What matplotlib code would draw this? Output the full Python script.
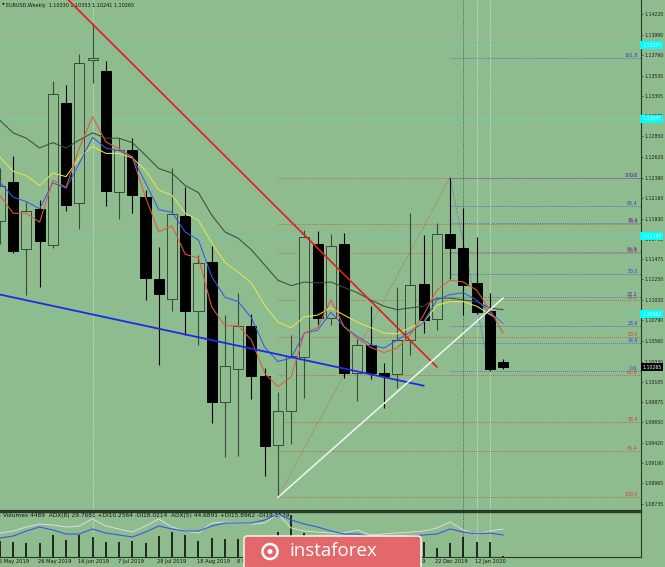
import matplotlib
matplotlib.use('Agg')
import matplotlib.pyplot as plt
from matplotlib.patches import Rectangle, FancyBboxPatch, Circle

bg = '#8fbc8f'

# weekly EURUSD bars, index 0 = week of 5 May 2019, last = week of 26 Jan 2020
date_labels = ['5 May 2019', '26 May 2019', '16 Jun 2019', '7 Jul 2019', '28 Jul 2019',
               '18 Aug 2019', '8 Sep 2019', '29 Sep 2019', '20 Oct 2019', '10 Nov 2019',
               '1 Dec 2019', '22 Dec 2019', '12 Jan 2020']
date_pos = [0, 3, 6, 9, 12, 15, 18, 21, 24, 27, 30, 33, 36]

opens = [1.1190, 1.1234, 1.1159, 1.1204, 1.1164, 1.1322, 1.1210, 1.1371, 1.1358, 1.1223,
         1.1270, 1.1217, 1.1125, 1.1103, 1.1196, 1.1090, 1.1144, 1.0988, 1.1025, 1.1073,
         1.1017, 1.0940, 1.0978, 1.1038, 1.1165, 1.1082, 1.1165, 1.1020, 1.1052, 1.1020,
         1.1019, 1.1057, 1.1120, 1.1081, 1.1176, 1.1160, 1.1121, 1.1090, 1.10330]
highs = [1.1250, 1.1263, 1.1212, 1.1214, 1.1347, 1.1343, 1.1377, 1.1412, 1.1369, 1.1283,
         1.1283, 1.1225, 1.1161, 1.1250, 1.1228, 1.1152, 1.1162, 1.1085, 1.1110, 1.1086,
         1.1026, 1.0999, 1.1063, 1.1180, 1.1179, 1.1176, 1.1177, 1.1058, 1.1095, 1.1031,
         1.1116, 1.1199, 1.1175, 1.1188, 1.1239, 1.1205, 1.1172, 1.1110, 1.10353]
lows = [1.1165, 1.1154, 1.1107, 1.1116, 1.1160, 1.1201, 1.1181, 1.1345, 1.1207, 1.1193,
        1.1199, 1.1102, 1.1029, 1.1090, 1.1063, 1.1052, 1.0964, 1.0926, 1.0927, 1.0991,
        1.0905, 1.0881, 1.0941, 1.0992, 1.1073, 1.1074, 1.1015, 1.0989, 1.1014, 1.0981,
        1.1003, 1.1040, 1.1065, 1.1068, 1.1125, 1.1085, 1.1086, 1.1022, 1.10241]
closes = [1.1230, 1.1157, 1.1202, 1.1168, 1.1333, 1.1208, 1.1367, 1.1373, 1.1224, 1.1270,
          1.1219, 1.1127, 1.1109, 1.1198, 1.1090, 1.1143, 1.0988, 1.1028, 1.1073, 1.1017,
          1.0938, 1.0978, 1.1039, 1.1172, 1.1082, 1.1162, 1.1020, 1.1052, 1.1020, 1.1017,
          1.1057, 1.1119, 1.1080, 1.1176, 1.1160, 1.1119, 1.1089, 1.1025, 1.10265]

# moving averages
ma_slow = [1.1303, 1.1289, 1.1283, 1.1272, 1.1278, 1.1272, 1.1281, 1.1289, 1.1283, 1.1283,
           1.1278, 1.1264, 1.1249, 1.1244, 1.1230, 1.1222, 1.1197, 1.1178, 1.1171, 1.1158,
           1.1141, 1.1124, 1.1118, 1.1122, 1.1121, 1.1122, 1.1116, 1.1110, 1.1102, 1.1095,
           1.1091, 1.1093, 1.1095, 1.1104, 1.1104, 1.1102, 1.1100, 1.1093, 1.1091]
ma_yellow = [1.1262, 1.1246, 1.1241, 1.1230, 1.1244, 1.1240, 1.1261, 1.1274, 1.1266, 1.1266,
             1.1261, 1.1247, 1.1225, 1.1219, 1.1199, 1.1191, 1.1166, 1.1144, 1.1133, 1.1121,
             1.1096, 1.1077, 1.1071, 1.1083, 1.1085, 1.1093, 1.1085, 1.1077, 1.1071, 1.1065,
             1.1064, 1.1071, 1.1077, 1.1096, 1.1100, 1.1100, 1.1095, 1.1086, 1.1077]
ma_blue = [1.1234, 1.1217, 1.1212, 1.1204, 1.1233, 1.1227, 1.1255, 1.1284, 1.1272, 1.1269,
           1.1262, 1.1233, 1.1203, 1.1200, 1.1178, 1.1169, 1.1128, 1.1105, 1.1100, 1.1082,
           1.1049, 1.1033, 1.1037, 1.1065, 1.1068, 1.1088, 1.1072, 1.1061, 1.1052, 1.1048,
           1.1057, 1.1066, 1.1077, 1.1102, 1.1108, 1.1110, 1.1102, 1.1088, 1.1076]
ma_red = [1.1219, 1.1199, 1.1199, 1.1189, 1.1236, 1.1228, 1.1272, 1.1307, 1.1279, 1.1271,
          1.1262, 1.1217, 1.1178, 1.1185, 1.1153, 1.1149, 1.1094, 1.1073, 1.1073, 1.1057,
          1.1020, 1.1005, 1.1016, 1.1065, 1.1071, 1.1102, 1.1072, 1.1059, 1.1049, 1.1043,
          1.1048, 1.1063, 1.1085, 1.1113, 1.1124, 1.1122, 1.1113, 1.1091, 1.1065]

volumes = [95000, 89500, 83600, 83600, 131300, 101500, 131300, 119400, 89500, 89500,
           95500, 83600, 125300, 149200, 131300, 95500, 113400, 107400, 107400, 100000,
           110000, 149200, 250692, 143300, 120000, 100000, 110000, 95000, 90000, 80000,
           105000, 115000, 89500, 53700, 83600, 119400, 89500, 89500, 4489]
adx8 = [22.3, 27.3, 39.7, 49.7, 42.2, 32.3, 32.3, 44.7, 34.7, 29.8,
        24.8, 37.2, 52.1, 44.7, 39.7, 39.7, 52.1, 59.6, 59.6, 59.6,
        67.1, 82.0, 67.1, 57.1, 49.7, 39.7, 32.3, 32.3, 24.8, 22.3,
        24.8, 27.3, 29.8, 32.3, 44.7, 37.2, 32.3, 34.7, 29.8]
adx5 = [34.7, 39.7, 49.7, 57.1, 54.6, 49.7, 52.1, 69.6, 52.1, 44.7,
        37.2, 52.1, 69.6, 49.7, 39.7, 34.7, 59.6, 62.1, 59.6, 57.1,
        59.6, 82.0, 47.2, 39.7, 37.2, 34.7, 34.7, 42.2, 29.8, 32.3,
        34.7, 37.2, 39.7, 47.2, 62.1, 42.2, 29.8, 39.7, 44.7]

price_ticks = [1.14220, 1.13990, 1.13760, 1.13530, 1.13305, 1.13075, 1.12850, 1.12620,
               1.12390, 1.12160, 1.11930, 1.11700, 1.11475, 1.11250, 1.11020, 1.10790,
               1.10560, 1.10330, 1.10105, 1.09875, 1.09650, 1.09420, 1.09190, 1.08965,
               1.08735]
cyan_levels = [1.13873, 1.13045, 1.11735, 1.10862]
last_price = 1.10265

fib_levels = [0.0, 14.6, 23.6, 38.2, 50.0, 61.8, 76.4, 85.4, 100.0, 161.8]
red_fib = [(21, 1.0881), (34, 1.1239)]      # low -> high, 100 at low
blue_fib = [(34, 1.1239), (37, 1.1022)]     # high -> low, 0 at low

trend_red = [(5.15, 1.1438), (33.0, 1.1027)]
trend_blue = [(0.0, 1.1108), (32.0, 1.1006)]
trend_white = [(21, 1.0881), (38.0, 1.1104)]
vlines_dark = [35]
vlines_light = [7, 36, 37]

title = 'EURUSD,Weekly  1.10330 1.10353 1.10241 1.10265'
vol_title = ('Volumes 4489  ADX(8) 29.7681 +DI10.2564 -DI18.0214  '
             'ADX(5) 44.6891 +DI15.8962 -DI19.1539')

W, H = 665, 567
fig = plt.figure(figsize=(W / 100, H / 100), dpi=100, facecolor=bg)
ax = fig.add_axes([0, 1 - 511 / H, 641 / W, 511 / H], facecolor=bg)
axv = fig.add_axes([0, 1 - 557 / H, 641 / W, 45 / H], facecolor=bg)

xlo, xhi = 0.01, 48.42
ax.set_xlim(xlo, xhi)
ax.set_ylim(1.08657, 1.14377)
axv.set_xlim(xlo, xhi)
axv.set_ylim(0, 268600)

frame = '#2a3a2a'
for a in (ax, axv):
    for s in ('left', 'top'):
        a.spines[s].set_visible(False)
    a.spines['right'].set_color(frame)
    a.spines['right'].set_linewidth(0.8)
    a.spines['bottom'].set_color(frame)
    a.spines['bottom'].set_linewidth(0.8)
    a.set_xticks([])
ax.spines['bottom'].set_linewidth(1.6)
axv.spines['top'].set_visible(True)
axv.spines['top'].set_color(frame)
axv.spines['top'].set_linewidth(1.0)

ax.yaxis.tick_right()
ax.set_yticks(price_ticks)
ax.set_yticklabels(['%.5f' % p for p in price_ticks])
ax.tick_params(axis='y', length=1.5, width=0.5, color=frame, pad=1.2,
               labelsize=3.3, labelcolor='#1a1a1a')
axv.yaxis.tick_right()
axv.set_yticks([0, 250692])
axv.set_yticklabels(['0', '250692'])
axv.tick_params(axis='y', length=1.5, width=0.5, color=frame, pad=1.2,
                labelsize=3.3, labelcolor='#1a1a1a')

# candles
bw = 0.76
for i in range(len(opens)):
    o, h, l, c = opens[i], highs[i], lows[i], closes[i]
    bull = c >= o
    col = '#3a4a3a' if bull else '#000000'
    ax.vlines(i, l, h, color=col, lw=0.8, zorder=2)
    ax.add_patch(Rectangle((i - bw / 2, min(o, c)), bw, max(abs(c - o), 0.00002),
                           facecolor=bg if bull else 'black',
                           edgecolor=col, lw=0.7, zorder=3))

xs = list(range(len(opens)))
ax.plot(xs, ma_slow, color='#3c4c3c', lw=0.75, zorder=4)
ax.plot(xs, ma_yellow, color='#e4e44c', lw=0.75, zorder=4)
ax.plot(xs, ma_blue, color='#3a56e8', lw=0.75, zorder=4)
ax.plot(xs, ma_red, color='#e05a38', lw=0.75, zorder=4)

# cyan horizontal levels
for lv in cyan_levels:
    ax.axhline(lv, color='#56d6c6', lw=0.6, ls=(0, (3, 1.5)), zorder=1)
    ax.text(1.002, lv, '%.5f' % lv, transform=ax.get_yaxis_transform(),
            fontsize=3.3, color='white', va='center', ha='left', zorder=10,
            bbox=dict(boxstyle='square,pad=0.4', fc='#00ffff', ec='none'))
ax.text(1.002, last_price, '%.5f' % last_price, transform=ax.get_yaxis_transform(),
        fontsize=3.3, color='white', va='center', ha='left', zorder=10,
        bbox=dict(boxstyle='square,pad=0.3', fc='black', ec='none'))

# fibonacci levels
(rx0, rlo), (rx1, rhi) = red_fib
for L in fib_levels:
    p = rhi - L / 100 * (rhi - rlo)
    if rlo - 0.0001 <= p <= 1.1437:
        ax.hlines(p, rx0, xhi, color='#c8503c', lw=0.6, ls=(0, (1, 1.5)), zorder=1)
        ax.text(xhi - 0.25, p, '%.1f' % L, fontsize=3.4, color='#d04030',
                ha='right', va='bottom', zorder=6)
ax.plot([rx0, rx1], [rlo, rhi], color='#c8503c', lw=0.6, ls=(0, (1, 1.5)), zorder=1)

(bx0, bhi), (bx1, blo) = blue_fib
for L in fib_levels:
    p = blo + L / 100 * (bhi - blo)
    ax.hlines(p, bx0, xhi, color='#3a56d8', lw=0.6, ls=(0, (1, 1.5)), zorder=1)
    ax.text(xhi - 0.25, p, '%.1f' % L, fontsize=3.4, color='#3040d0',
            ha='right', va='bottom', zorder=7)
ax.plot([bx0, bx1], [bhi, blo], color='#3a56d8', lw=0.6, ls=(0, (1, 1.5)), zorder=1)

# trend lines
ax.plot(*zip(*trend_red), color='#e41c1c', lw=1.2, zorder=5)
ax.plot(*zip(*trend_blue), color='#1c2ce4', lw=1.3, zorder=5)
ax.plot(*zip(*trend_white), color='#f4f4f4', lw=1.1, zorder=5)

for a in (ax, axv):
    for v in vlines_dark:
        a.axvline(v, color='#3c4a3c', lw=0.6, ls=(0, (1, 1.5)), zorder=1)
    for v in vlines_light:
        a.axvline(v, color='#e8f0e8', lw=0.6, ls=(0, (1, 1.5)), zorder=1)

ax.text(6 / 641, 1 - 5 / 511, title, transform=ax.transAxes, fontsize=3.5,
        color='#111111', ha='left', va='center')
ax.text(1.5 / 641, 1 - 5 / 511, '\u25bc', transform=ax.transAxes, fontsize=2.5,
        color='#111111', ha='left', va='center')

# volume panel
axv.vlines(xs, 0, volumes, color='black', lw=1.1, zorder=3)
axa = axv.twinx()
axa.set_ylim(-24.9, 87.0)
axa.set_yticks([])
for s in axa.spines.values():
    s.set_visible(False)
axa.plot(xs, adx5, color='#d8e0d8', lw=0.7)
axa.plot(xs, adx8, color='#3a56e8', lw=0.8)
axv.text(3 / 641, 1 - 4 / 45, vol_title, transform=axv.transAxes, fontsize=4.2,
         color='#111111', ha='left', va='center')

for pos, lab in zip(date_pos, date_labels):
    axv.text(pos - 0.1, -0.11, lab, transform=axv.get_xaxis_transform(),
             fontsize=3.7, color='#111111', ha='left', va='center', clip_on=False)

# instaforex watermark
ov = fig.add_axes([0, 0, 1, 1])
ov.set_xlim(0, W)
ov.set_ylim(H, 0)
ov.axis('off')
ov.patch.set_alpha(0)
ov.add_patch(FancyBboxPatch((244, 536), 177, 40, boxstyle='round,pad=0,rounding_size=3',
                            fc='#e2686c', ec='white', lw=1))
ov.add_patch(Circle((270, 551.5), 7.5, fc='none', ec='white', lw=1.8))
ov.add_patch(Circle((270, 551.5), 2.5, fc='white', ec='none'))
ov.text(333, 551, 'instaforex', color='white', fontsize=13.5, family='Open Sans',
        ha='center', va='center')

fig.savefig('out.png', dpi=100, facecolor=bg)
